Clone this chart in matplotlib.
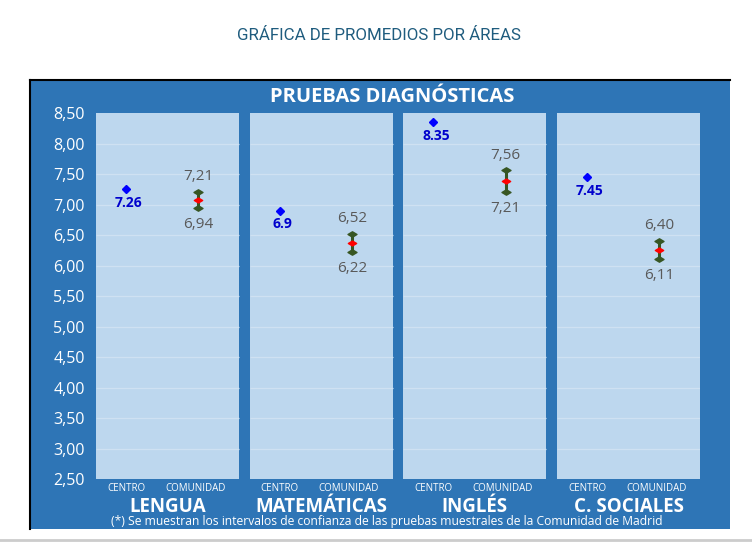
import numpy as np
import matplotlib.pyplot as plt
from matplotlib.patches import Rectangle
from matplotlib.path import Path

plt.rcParams.update({
    'font.family': ['Open Sans', 'DejaVu Sans'],
})

areas = ['LENGUA', 'MATEMÁTICAS', 'INGLÉS', 'C. SOCIALES']
centro = [7.26, 6.9, 8.35, 7.45]
centro_labels = ['7.26', '6.9', '8.35', '7.45']
comunidad_low = [6.94, 6.22, 7.21, 6.11]
comunidad_high = [7.21, 6.52, 7.56, 6.40]
comunidad_mean = [7.08, 6.37, 7.39, 6.26]
yticks = [2.5, 3.0, 3.5, 4.0, 4.5, 5.0, 5.5, 6.0, 6.5, 7.0, 7.5, 8.0, 8.5]

BOX = '#2E75B6'
PANEL = '#BDD7EE'
GRID = '#CFE1F2'
GREEN = '#375623'
GRAY = '#595959'

# flattened diamond for the caps / mean
flat_diamond = Path([(-1, 0), (0, 0.6), (1, 0), (0, -0.6), (-1, 0)],
                    [Path.MOVETO, Path.LINETO, Path.LINETO, Path.LINETO, Path.CLOSEPOLY])

fig = plt.figure(figsize=(7.52, 5.42), dpi=100)
W, H = 752, 542

# blue frame with black left/top border
fig.add_artist(Rectangle((29 / W, 1 - 529 / H), 701 / W, 449 / H,
                         transform=fig.transFigure, facecolor=BOX,
                         edgecolor='none', zorder=-1))
fig.add_artist(plt.Line2D([30 / W, 30 / W], [1 - 529 / H, 1 - 80 / H],
                          transform=fig.transFigure, color='black', lw=1.5))
fig.add_artist(plt.Line2D([30 / W, 730 / W], [1 - 80 / H, 1 - 80 / H],
                          transform=fig.transFigure, color='black', lw=1.5))
fig.add_artist(plt.Line2D([0, 1], [1 - 540 / H, 1 - 540 / H],
                          transform=fig.transFigure, color='#CCCCCC', lw=2))

ax = fig.add_axes([96 / W, 1 - 479 / H, 604 / W, 366 / H])
ax.set_facecolor('none')
half = 0.93 / 2
ax.set_xlim(-half, len(areas) - 1 + half)
ax.set_ylim(2.5, 8.5)
for s in ax.spines.values():
    s.set_visible(False)

x = np.arange(len(areas))
for i in x:
    ax.axvspan(i - half, i + half, color=PANEL, zorder=0, lw=0)
    ax.hlines(yticks[1:-1], i - half, i + half, color=GRID, lw=0.9, zorder=1)

ax.set_yticks(yticks)
ax.set_yticklabels([f'{v:.2f}'.replace('.', ',') for v in yticks])
ax.tick_params(axis='y', length=0, pad=8, labelsize=11.5, labelcolor='white')
ax.set_xticks([])

xc = x - 0.27
xm = x + 0.20

# centro
ax.plot(xc, centro, linestyle='none', marker='D', ms=4.5, color='#0000FF', zorder=3)
for xi, v, lab in zip(xc, centro, centro_labels):
    ax.annotate(lab, (xi, v), xytext=(2, -10), textcoords='offset points',
                ha='center', va='center', color='#0000CC', fontsize=10,
                fontweight='bold')

# comunidad intervals
ax.vlines(xm, comunidad_low, comunidad_high, color=GREEN, lw=2.2, zorder=3)
ax.plot(xm, comunidad_high, linestyle='none', marker=flat_diamond, ms=6.5,
        color=GREEN, zorder=4)
ax.plot(xm, comunidad_low, linestyle='none', marker=flat_diamond, ms=6.5,
        color=GREEN, zorder=4)
ax.plot(xm, comunidad_mean, linestyle='none', marker=flat_diamond, ms=6,
        color='#FF0000', zorder=5)
for xi, lo, hi in zip(xm, comunidad_low, comunidad_high):
    ax.annotate(f'{hi:.2f}'.replace('.', ','), (xi, hi), xytext=(0, 11),
                textcoords='offset points', ha='center', va='center',
                color=GRAY, fontsize=11)
    ax.annotate(f'{lo:.2f}'.replace('.', ','), (xi, lo), xytext=(0, -12),
                textcoords='offset points', ha='center', va='center',
                color=GRAY, fontsize=11)

# labels under panels
for i, name in enumerate(areas):
    ax.annotate('CENTRO', (xc[i], 2.5), xytext=(0, -7), textcoords='offset points',
                ha='center', va='center', color='white', fontsize=7,
                annotation_clip=False)
    ax.annotate('COMUNIDAD', (xm[i] - 0.02, 2.5), xytext=(0, -7),
                textcoords='offset points', ha='center', va='center',
                color='white', fontsize=7, annotation_clip=False)
    ax.annotate(name, (i, 2.5), xytext=(0, -20), textcoords='offset points',
                ha='center', va='center', color='white', fontsize=13.5,
                fontweight='bold', annotation_clip=False)

fig.text(379 / W, 1 - 35 / H, 'GRÁFICA DE PROMEDIOS POR ÁREAS',
         family=['Roboto', 'DejaVu Sans'], fontsize=12.2, color='#1F5C7E',
         ha='center', va='center')
fig.text(392 / W, 1 - 97 / H, 'PRUEBAS DIAGNÓSTICAS', fontsize=14.5,
         fontweight='bold', color='white', ha='center', va='center')
fig.text(387 / W, 1 - 522 / H,
         '(*) Se muestran los intervalos de confianza de las pruebas muestrales de la Comunidad de Madrid',
         fontsize=8.7, color='white', ha='center', va='center')

fig.savefig('out.png', dpi=100)
